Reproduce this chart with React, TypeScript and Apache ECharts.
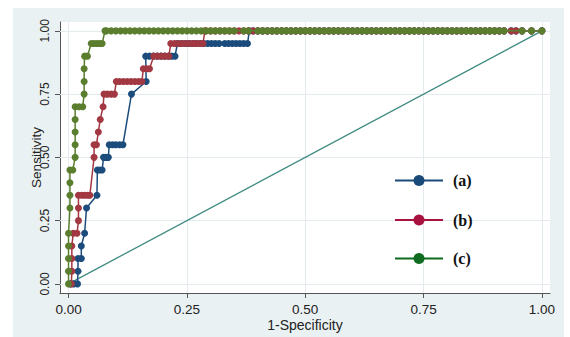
import React, { useEffect, useRef } from "react";
import * as echarts from "echarts";

const xTicks = [0, 0.25, 0.5, 0.75, 1];
const yTicks = [0, 0.25, 0.5, 0.75, 1];
const legendLabels = ["(a)", "(b)", "(c)"];

// ROC step points (1-Specificity, Sensitivity)
const curveA: number[][] = [
  [0.004, 0], [0.011, 0], [0.019, 0], [0.02, 0.05], [0.02, 0.1], [0.027, 0.1], [0.027, 0.15],
  [0.034, 0.2], [0.038, 0.3], [0.06, 0.35], [0.061, 0.45], [0.066, 0.45], [0.071, 0.45],
  [0.074, 0.5], [0.079, 0.5], [0.084, 0.5], [0.086, 0.55], [0.093, 0.55], [0.1, 0.55],
  [0.108, 0.55], [0.115, 0.55], [0.133, 0.75], [0.164, 0.8], [0.163, 0.9], [0.171, 0.9],
  [0.179, 0.9], [0.187, 0.9], [0.195, 0.9], [0.203, 0.9], [0.211, 0.9], [0.218, 0.9],
  [0.225, 0.9], [0.23, 0.95], [0.238, 0.95], [0.246, 0.95], [0.254, 0.95], [0.262, 0.95],
  [0.27, 0.95], [0.278, 0.95], [0.286, 0.95], [0.294, 0.95], [0.302, 0.95], [0.31, 0.95],
  [0.318, 0.95], [0.33, 0.95], [0.338, 0.95], [0.346, 0.95], [0.354, 0.95], [0.362, 0.95],
  [0.37, 0.95], [0.378, 0.95], [0.382, 1],
];
const curveB: number[][] = [
  [0.006, 0], [0.007, 0.05], [0.007, 0.1], [0.007, 0.15], [0.01, 0.2], [0.018, 0.2],
  [0.021, 0.25], [0.021, 0.3], [0.021, 0.35], [0.028, 0.35], [0.034, 0.35], [0.04, 0.35],
  [0.045, 0.35], [0.054, 0.5], [0.054, 0.55], [0.059, 0.55], [0.063, 0.6], [0.067, 0.65],
  [0.073, 0.7], [0.075, 0.75], [0.082, 0.75], [0.09, 0.75], [0.097, 0.75], [0.101, 0.8],
  [0.108, 0.8], [0.116, 0.8], [0.124, 0.8], [0.132, 0.8], [0.14, 0.8], [0.148, 0.8],
  [0.155, 0.8], [0.158, 0.85], [0.165, 0.85], [0.171, 0.85], [0.18, 0.9], [0.188, 0.9],
  [0.196, 0.9], [0.204, 0.9], [0.212, 0.9], [0.216, 0.95], [0.224, 0.95], [0.232, 0.95],
  [0.24, 0.95], [0.248, 0.95], [0.256, 0.95], [0.264, 0.95], [0.27, 0.95], [0.278, 0.95],
  [0.284, 0.95], [0.288, 1],
];
const curveC: number[][] = [
  [0, 0], [0, 0.05], [0, 0.1], [0, 0.15], [0, 0.2], [0.003, 0.3], [0.003, 0.35], [0.003, 0.4],
  [0.003, 0.45], [0.009, 0.45], [0.014, 0.5], [0.014, 0.55], [0.014, 0.6], [0.014, 0.65],
  [0.014, 0.7], [0.022, 0.7], [0.03, 0.7], [0.033, 0.75], [0.033, 0.8], [0.033, 0.85],
  [0.034, 0.9], [0.04, 0.9], [0.048, 0.95], [0.054, 0.95], [0.06, 0.95], [0.066, 0.95],
  [0.071, 0.95], [0.077, 1],
];
// false-positive fractions at which all curves sit at sensitivity 1.00
const fullRowX = [
  0.08, 0.09, 0.1, 0.11, 0.12, 0.13, 0.14, 0.15, 0.16, 0.17, 0.18, 0.19, 0.2, 0.21, 0.22,
  0.23, 0.24, 0.25, 0.26, 0.27, 0.28, 0.29, 0.3, 0.31, 0.32, 0.33, 0.34, 0.35, 0.36, 0.37,
  0.38, 0.39, 0.4, 0.41, 0.42, 0.43, 0.44, 0.45, 0.46, 0.47, 0.48, 0.49, 0.5, 0.51, 0.52,
  0.53, 0.54, 0.55, 0.56, 0.57, 0.58, 0.59, 0.6, 0.61, 0.62, 0.63, 0.64, 0.65, 0.66, 0.67,
  0.68, 0.69, 0.7, 0.71, 0.72, 0.73, 0.74, 0.75, 0.76, 0.77, 0.78, 0.79, 0.8, 0.81, 0.82,
  0.83, 0.84, 0.85, 0.86, 0.87, 0.88, 0.89, 0.9, 0.91, 0.92, 0.935, 0.945, 0.958, 0.978, 1,
];
const greenGapX = [0.36, 0.39, 0.935, 0.945];
const diagonal: number[][] = [[0, 0], [1, 1]];

const seriesColors = ["#1b4c7c", "#a23842", "#5a7d2e"];
const legendColors = ["#1a4a7a", "#a8123f", "#0e6b1f"];

function withTop(curve: number[][], skip: number[] = []) {
  const lastX = curve[curve.length - 1][0];
  return curve.concat(
    fullRowX.filter((x) => x > lastX && !skip.includes(x)).map((x) => [x, 1])
  );
}

export default function App() {
  const ref = useRef<HTMLDivElement>(null);
  useEffect(() => {
    if (!ref.current) return;
    const chart = echarts.init(ref.current, undefined, { renderer: "svg" });
    const font = "'Liberation Sans', Arial, sans-serif";
    const curves = [withTop(curveA), withTop(curveB), withTop(curveC, greenGapX)];
    const legendY = [180.5, 220, 258.5];
    chart.setOption({
      animation: false,
      grid: {
        left: 60, top: 22, width: 490, height: 278,
        show: true, backgroundColor: "#ffffff", borderWidth: 0,
      },
      xAxis: {
        type: "value", min: -0.018, max: 1.017,
        name: "1-Specificity", nameLocation: "middle", nameGap: 25, nameMoveOverlap: false,
        nameTextStyle: { fontFamily: font, fontSize: 14, color: "#222" },
        axisLine: { show: true, onZero: false, lineStyle: { color: "#555", width: 1 } },
        axisTick: { show: true, customValues: xTicks, length: 5, lineStyle: { color: "#555" } },
        axisLabel: {
          customValues: xTicks, formatter: (v: number) => v.toFixed(2),
          fontFamily: font, fontSize: 13.5, color: "#222", margin: 9,
        },
        splitLine: { show: false },
      },
      yAxis: {
        type: "value", min: -0.036, max: 1.035,
        name: "Sensitivity", nameLocation: "middle", nameGap: 17, nameRotate: 90,
        nameMoveOverlap: false,
        nameTextStyle: { fontFamily: font, fontSize: 13.5, color: "#222" },
        axisLine: { show: true, onZero: false, lineStyle: { color: "#555", width: 1 } },
        axisTick: { show: true, customValues: yTicks, length: 5, lineStyle: { color: "#555" } },
        axisLabel: {
          customValues: yTicks, formatter: (v: number) => v.toFixed(2), rotate: 90,
          fontFamily: font, fontSize: 12, color: "#222", margin: 9,
        },
        splitLine: { show: false },
      },
      series: [
        {
          type: "line", data: diagonal, symbol: "none", silent: true, z: 2,
          lineStyle: { color: "#3f8a80", width: 1.3 },
          markLine: {
            silent: true, z: 1, symbol: ["none", "none"], label: { show: false },
            lineStyle: { color: "#e3ebee", width: 1, type: "solid" },
            data: [
              ...xTicks.map((v) => ({ xAxis: v })),
              ...yTicks.map((v) => ({ yAxis: v })),
            ],
          },
        },
        ...curves.map((d, i) => ({
          type: "line", data: d, symbol: "circle", symbolSize: 7, silent: true,
          showAllSymbol: true, z: 3 + i,
          itemStyle: { color: seriesColors[i] },
          lineStyle: { color: seriesColors[i], width: 1.5 },
        })),
      ],
      graphic: legendLabels.flatMap((lab, i) => [
        {
          type: "line", silent: true, z: 10,
          shape: { x1: 395, y1: legendY[i], x2: 443, y2: legendY[i] },
          style: { stroke: legendColors[i], lineWidth: 2 },
        },
        {
          type: "circle", silent: true, z: 11,
          shape: { cx: 419, cy: legendY[i], r: 5.5 },
          style: { fill: legendColors[i] },
        },
        {
          type: "text", silent: true, z: 11, x: 453, y: legendY[i],
          style: {
            text: lab, fill: "#111", fontSize: 16, fontWeight: "bold",
            fontFamily: "'Liberation Serif', 'Times New Roman', serif",
            verticalAlign: "middle", align: "left",
          },
        },
      ]),
    });
    return () => chart.dispose();
  }, []);
  return (
    <div style={{ position: "fixed", left: 0, top: 0, width: 570, height: 337, background: "#ffffff" }}>
      <div style={{ position: "absolute", left: 13, top: 8, width: 551, height: 329, background: "#eaf1f3" }} />
      <div ref={ref} style={{ position: "absolute", left: 0, top: 0, width: 570, height: 337 }} />
    </div>
  );
}
